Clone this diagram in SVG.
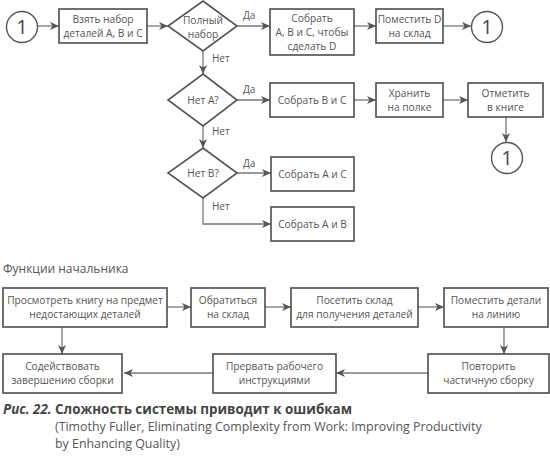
<svg xmlns="http://www.w3.org/2000/svg" width="550" height="471" viewBox="0 0 550 471">
<defs>
<marker id="ah" markerWidth="10" markerHeight="8" refX="9" refY="4" orient="auto" markerUnits="userSpaceOnUse">
<path d="M0,0 L9,4 L0,8 L2.5,4 Z" fill="#555"/>
</marker>
<style>
.box{fill:#fff;stroke:#4d4d4d;stroke-width:1.6}
.dia{fill:#fff;stroke:#555;stroke-width:1.6}
.circ{fill:#fff;stroke:#555;stroke-width:1.4}
.ln{fill:none;stroke:#777;stroke-width:1.3;marker-end:url(#ah)}
.t{font-family:"Open Sans","Noto Sans",sans-serif;font-size:10.2px;fill:#555;text-anchor:middle}
.lbl{font-family:"Open Sans","Noto Sans",sans-serif;font-size:10px;fill:#555}
.num{font-family:"Open Sans","Noto Sans",sans-serif;font-size:20px;fill:#444;text-anchor:middle}
.head{font-family:"Open Sans","Noto Sans",sans-serif;font-size:12px;fill:#555}
.cap1{font-family:"Open Sans","Noto Sans",sans-serif;font-size:13.4px;font-weight:bold;fill:#444}
.cap2{font-family:"Open Sans","Noto Sans",sans-serif;font-size:12.4px;fill:#555}
</style>
</defs>
<rect width="550" height="471" fill="#fff"/>

<g id="connectors">
<line class="ln" x1="38" y1="26" x2="59" y2="26"/>
<line class="ln" x1="147" y1="26" x2="168" y2="26"/>
<line class="ln" x1="237" y1="26" x2="270" y2="26"/>
<line class="ln" x1="354" y1="26" x2="376" y2="26"/>
<line class="ln" x1="443" y1="26" x2="471" y2="26"/>
<line class="ln" x1="203" y1="51" x2="203" y2="74"/>
<line class="ln" x1="237" y1="100" x2="270" y2="100"/>
<line class="ln" x1="354" y1="100" x2="376" y2="100"/>
<line class="ln" x1="443" y1="100" x2="468" y2="100"/>
<line class="ln" x1="506" y1="117" x2="506" y2="142"/>
<line class="ln" x1="203" y1="126" x2="203" y2="148"/>
<line class="ln" x1="237" y1="173" x2="271" y2="173"/>
<polyline class="ln" points="203,198 203,224 271,224"/>
<line class="ln" x1="167" y1="307" x2="191" y2="307"/>
<line class="ln" x1="265" y1="307" x2="291" y2="307"/>
<line class="ln" x1="418" y1="307" x2="444" y2="307"/>
<line class="ln" x1="62" y1="327" x2="62" y2="354"/>
<line class="ln" x1="504" y1="327" x2="504" y2="354"/>
<line class="ln" x1="428" y1="373" x2="336" y2="373"/>
<line class="ln" x1="213" y1="373" x2="124" y2="373"/>
<text class="lbl" x="243" y="19">Да</text>
<text class="lbl" x="212" y="62">Нет</text>
<text class="lbl" x="243" y="93">Да</text>
<text class="lbl" x="212" y="135">Нет</text>
<text class="lbl" x="243" y="167">Да</text>
<text class="lbl" x="212" y="210">Нет</text>
</g>

<g id="start1">
<circle class="circ" cx="22" cy="27" r="15.5"/>
<text class="num" x="22" y="34">1</text>
</g>
<g id="take">
<rect class="box" x="59" y="9" width="88" height="34"/>
<text class="t" x="103" y="23">Взять набор</text>
<text class="t" x="103" y="37">деталей А, В и С</text>
</g>
<g id="full">
<polygon class="dia" points="203,1 237,26 203,51 168,26"/>
<text class="t" x="203" y="24">Полный</text>
<text class="t" x="203" y="38">набор</text>
</g>
<g id="assembleD">
<rect class="box" x="270" y="9" width="84" height="46"/>
<text class="t" x="312" y="22">Собрать</text>
<text class="t" x="312" y="36">А, В и С, чтобы</text>
<text class="t" x="312" y="50">сделать D</text>
</g>
<g id="storeD">
<rect class="box" x="376" y="9" width="67" height="34"/>
<text class="t" x="409.5" y="23">Поместить D</text>
<text class="t" x="409.5" y="37">на склад</text>
</g>
<g id="end1">
<circle class="circ" cx="487" cy="27" r="15.5"/>
<text class="num" x="487" y="34">1</text>
</g>
<g id="noA">
<polygon class="dia" points="203,74 237,100 203,126 168,100"/>
<text class="t" x="203" y="104">Нет А?</text>
</g>
<g id="assembleBC">
<rect class="box" x="270" y="83" width="84" height="34"/>
<text class="t" x="312" y="104">Собрать В и С</text>
</g>
<g id="shelf">
<rect class="box" x="376" y="83" width="67" height="34"/>
<text class="t" x="409.5" y="97">Хранить</text>
<text class="t" x="409.5" y="111">на полке</text>
</g>
<g id="book">
<rect class="box" x="468" y="83" width="75" height="34"/>
<text class="t" x="505.5" y="97">Отметить</text>
<text class="t" x="505.5" y="111">в книге</text>
</g>
<g id="end2">
<circle class="circ" cx="507" cy="158" r="15.5"/>
<text class="num" x="507" y="165">1</text>
</g>
<g id="noB">
<polygon class="dia" points="203,148 237,173 203,198 168,173"/>
<text class="t" x="203" y="177">Нет В?</text>
</g>
<g id="assembleAC">
<rect class="box" x="271" y="157" width="83" height="34"/>
<text class="t" x="312.5" y="178">Собрать А и С</text>
</g>
<g id="assembleAB">
<rect class="box" x="271" y="207" width="83" height="34"/>
<text class="t" x="312.5" y="228">Собрать А и В</text>
</g>

<text class="head" x="3" y="273">Функции начальника</text>

<g id="review">
<rect class="box" x="3" y="288" width="164" height="39"/>
<text class="t" x="85" y="304">Просмотреть книгу на предмет</text>
<text class="t" x="85" y="318">недостающих деталей</text>
</g>
<g id="warehouse">
<rect class="box" x="191" y="288" width="74" height="39"/>
<text class="t" x="228" y="304">Обратиться</text>
<text class="t" x="228" y="318">на склад</text>
</g>
<g id="visit">
<rect class="box" x="291" y="288" width="127" height="39"/>
<text class="t" x="354.5" y="304">Посетить склад</text>
<text class="t" x="354.5" y="318">для получения деталей</text>
</g>
<g id="place">
<rect class="box" x="444" y="288" width="104" height="39"/>
<text class="t" x="496" y="304">Поместить детали</text>
<text class="t" x="496" y="318">на линию</text>
</g>
<g id="repeat">
<rect class="box" x="428" y="354" width="121" height="39"/>
<text class="t" x="488.5" y="370">Повторить</text>
<text class="t" x="488.5" y="384">частичную сборку</text>
</g>
<g id="interrupt">
<rect class="box" x="213" y="354" width="123" height="39"/>
<text class="t" x="274.5" y="370">Прервать рабочего</text>
<text class="t" x="274.5" y="384">инструкциями</text>
</g>
<g id="assist">
<rect class="box" x="3" y="354" width="119" height="39"/>
<text class="t" x="62.5" y="370">Содействовать</text>
<text class="t" x="62.5" y="384">завершению сборки</text>
</g>

<g id="caption">
<text class="cap1" x="3" y="414"><tspan font-style="italic">Рис. 22.</tspan> Сложность системы приводит к ошибкам</text>
<text class="cap2" x="55" y="431">(Timothy Fuller, Eliminating Complexity from Work: Improving Productivity</text>
<text class="cap2" x="55" y="448">by Enhancing Quality)</text>
</g>
</svg>
